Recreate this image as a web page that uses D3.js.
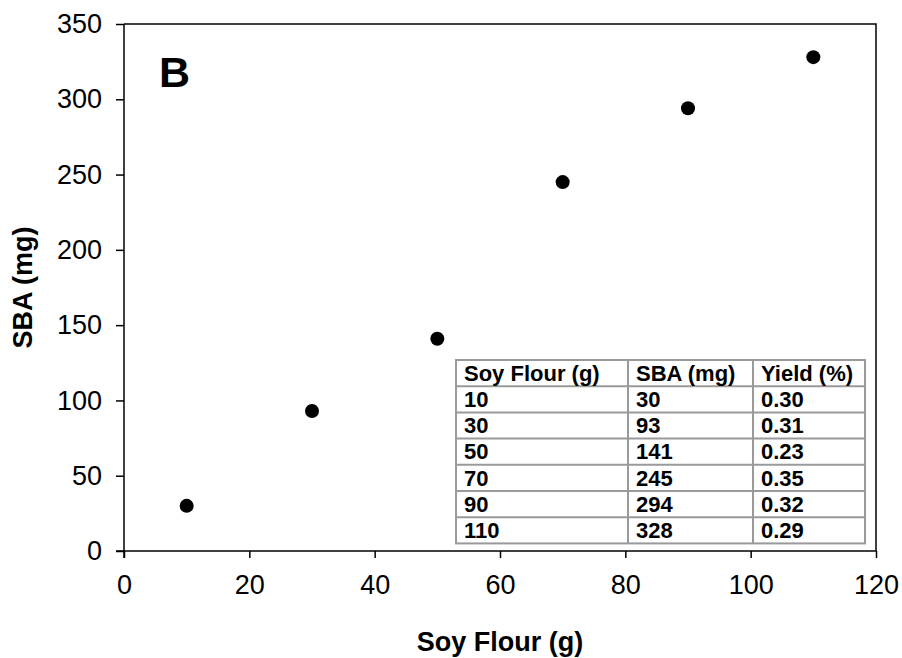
<!DOCTYPE html>
<html>
<head>
<meta charset="utf-8">
<script src="https://cdn.jsdelivr.net/npm/d3@7"></script>
<style>
  html, body { margin: 0; padding: 0; background: #fff; }
  svg { display: block; }
  text { font-family: "Liberation Sans", Arial, sans-serif; }
</style>
</head>
<body>
<svg id="chart" width="902" height="658"></svg>
<script>
// ---- data ----
const soyFlour = [10, 30, 50, 70, 90, 110];
const sba = [30, 93, 141, 245, 294, 328];
const yieldPct = ["0.30", "0.31", "0.23", "0.35", "0.32", "0.29"];
const tableHeaders = ["Soy Flour (g)", "SBA (mg)", "Yield (%)"];
const xTicks = [0, 20, 40, 60, 80, 100, 120];
const yTicks = [0, 50, 100, 150, 200, 250, 300, 350];
const panelLabel = "B";
const xTitle = "Soy Flour (g)";
const yTitle = "SBA (mg)";

(function () {
// ---- layout ----
const svg = d3.select("#chart");
const pL = 124, pR = 876, pT = 24, pB = 551;

const x = d3.scaleLinear().domain([0, 120]).range([pL, pR]);
const y = d3.scaleLinear().domain([0, 350]).range([pB, pT]);

// frame (top and right)
svg.append("path")
  .attr("d", `M${pL},${pT}H${pR}V${pB}`)
  .attr("fill", "none").attr("stroke", "#000").attr("stroke-width", 1.5);

// axes
const gx = svg.append("g").attr("transform", `translate(0,${pB})`)
  .call(d3.axisBottom(x).tickValues(xTicks).tickSize(7).tickSizeOuter(0).tickPadding(17));
const gy = svg.append("g").attr("transform", `translate(${pL},0)`)
  .call(d3.axisLeft(y).tickValues(yTicks).tickSize(8).tickSizeOuter(0).tickPadding(14));
[gx, gy].forEach(g => {
  g.select(".domain").attr("stroke", "#000").attr("stroke-width", 1.5);
  g.selectAll(".tick line").attr("stroke", "#000").attr("stroke-width", 1.5);
  g.selectAll(".tick text").attr("font-size", 27).attr("fill", "#000")
    .attr("font-family", "Liberation Sans, Arial, sans-serif");
});
gy.select(".domain").attr("d", `M0,${pB + 7}V${pT}`);
gx.select(".domain").attr("d", `M${pL - 8},0H${pR}`);

// axis titles
svg.append("text").attr("x", (pL + pR) / 2).attr("y", 651)
  .attr("text-anchor", "middle").attr("font-size", 27).attr("font-weight", "bold")
  .text(xTitle);
svg.append("text").attr("transform", `translate(32,${(pT + pB) / 2}) rotate(-90)`)
  .attr("text-anchor", "middle").attr("font-size", 27).attr("font-weight", "bold")
  .text(yTitle);

// panel label
svg.append("text").attr("x", 159).attr("y", 87)
  .attr("font-size", 43).attr("font-weight", "bold").text(panelLabel);

// points
svg.append("g").selectAll("circle")
  .data(soyFlour.map((v, i) => [v, sba[i]]))
  .join("circle")
  .attr("cx", d => x(d[0])).attr("cy", d => y(d[1])).attr("r", 7)
  .attr("fill", "#000");

// table
const tLeft = 456, tTop = 360, rowH = 26.2;
const colX = [456, 628, 753, 865];
const rows = [tableHeaders].concat(soyFlour.map((v, i) => [String(v), String(sba[i]), yieldPct[i]]));
const tBottom = tTop + rowH * rows.length;
const tg = svg.append("g");
tg.append("rect").attr("x", tLeft).attr("y", tTop)
  .attr("width", colX[3] - tLeft).attr("height", tBottom - tTop)
  .attr("fill", "#fff").attr("stroke", "#9a9a9a").attr("stroke-width", 2);
for (let i = 1; i < rows.length; i++) {
  tg.append("line").attr("x1", tLeft).attr("x2", colX[3])
    .attr("y1", tTop + rowH * i).attr("y2", tTop + rowH * i)
    .attr("stroke", "#9a9a9a").attr("stroke-width", 2);
}
for (let c = 1; c < 3; c++) {
  tg.append("line").attr("x1", colX[c]).attr("x2", colX[c])
    .attr("y1", tTop).attr("y2", tBottom)
    .attr("stroke", "#9a9a9a").attr("stroke-width", 2);
}
rows.forEach((r, i) => {
  r.forEach((t, c) => {
    tg.append("text").attr("x", colX[c] + 8).attr("y", tTop + rowH * (i + 1) - 5.5)
      .attr("font-size", 22).attr("font-weight", "bold").attr("fill", "#000")
      .text(t);
  });
});
})();
</script>
</body>
</html>
